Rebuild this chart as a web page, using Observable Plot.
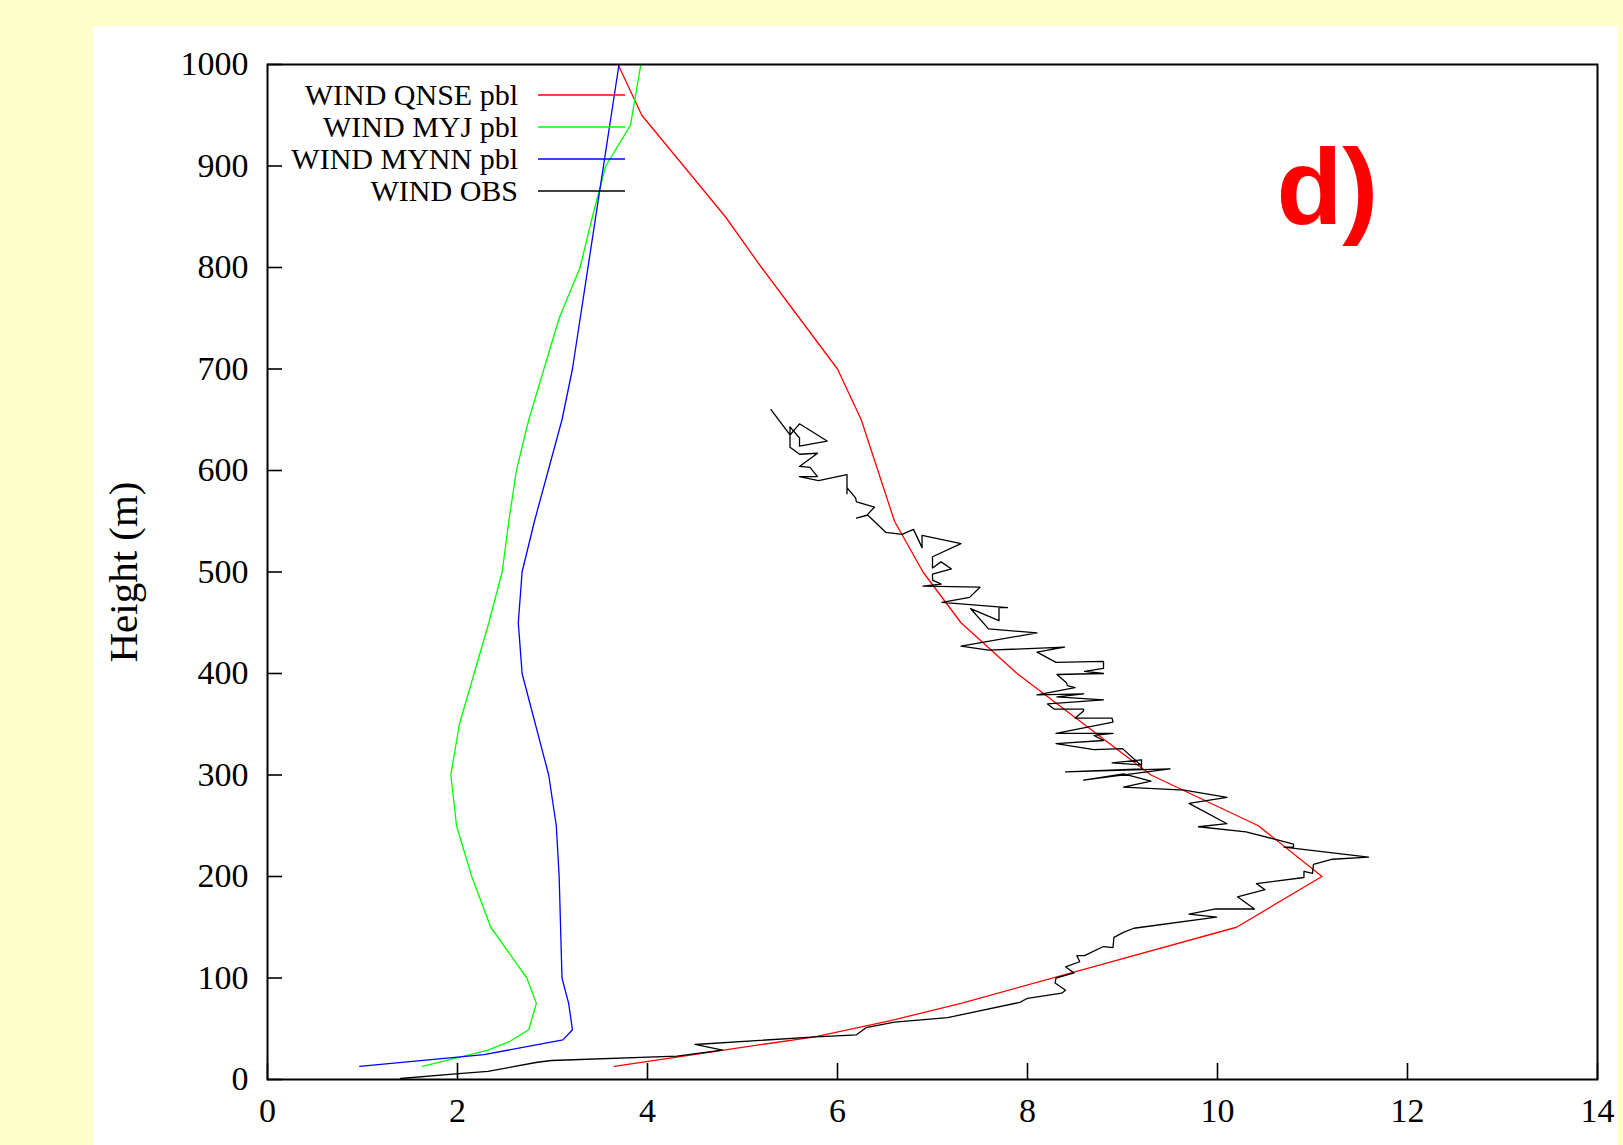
<!DOCTYPE html>
<html>
<head>
<meta charset="utf-8">
<script src="https://cdn.jsdelivr.net/npm/d3@7"></script>
<script src="https://cdn.jsdelivr.net/npm/@observablehq/plot@0.6"></script>
<style>
  html, body { margin: 0; padding: 0; background: #ffffcc; width: 1623px; height: 1145px; overflow: hidden; }
  #panel { position: absolute; left: 93px; top: 26px; width: 1524px; height: 1119px; background: #ffffff; }
  #chart { position: absolute; left: 0; top: 0; }
</style>
</head>
<body>
<div id="panel"></div>
<div id="chart"></div>
<script>
// ---- data (wind speed m/s, height m) ----
const xTicks = [0, 2, 4, 6, 8, 10, 12, 14];
const yTicks = [0, 100, 200, 300, 400, 500, 600, 700, 800, 900, 1000];
const seriesNames = ["WIND QNSE pbl", "WIND MYJ pbl", "WIND MYNN pbl", "WIND OBS"];
const seriesColors = ["#ff0000", "#00ff00", "#0000ff", "#000000"];
const yLabel = "Height (m)";
const panelLabel = [{x: 10.62, y: 877, text: "d)"}];

const qnse = [
  [3.65,13],[4.31,22],[4.80,29],[5.76,42],[6.56,58],[7.30,75],[10.20,150],[11.10,200],
  [10.43,250],[9.30,300],[7.89,400],[7.30,450],[6.90,500],[6.60,550],[6.25,650],[6.00,700],
  [5.60,750],[5.20,800],[4.82,850],[3.94,950],[3.69,1000]
];
const myj = [
  [1.63,13],[2.07,23],[2.32,29],[2.54,37],[2.75,49],[2.83,75],[2.73,100],[2.35,150],[2.15,200],
  [1.99,250],[1.93,300],[2.02,350],[2.33,450],[2.47,500],[2.54,550],[2.62,600],[2.75,650],
  [2.91,700],[3.07,750],[3.29,800],[3.42,850],[3.56,900],[3.82,940],[3.93,1000]
];
const mynn = [
  [0.97,13],[2.28,24.6],[3.11,39],[3.21,49],[3.17,75],[3.10,100],[3.07,200],[3.04,250],
  [2.96,300],[2.68,400],[2.64,450],[2.68,500],[2.81,550],[3.10,650],[3.21,700],[3.70,1000]
];
const obs = [
  [5.30,660],[5.50,635],[5.60,646],[5.89,629],[5.60,624],[5.60,632],[5.50,643],[5.50,623],
  [5.60,616],[5.79,617],[5.60,604],[5.71,603],[5.79,594],[5.60,594],[5.80,590],[6.10,596],
  [6.10,577],[6.10,583],[6.19,573],[6.20,569],[6.39,564],[6.31,556],[6.20,553],[6.32,556],
  [6.51,539],[6.68,537],[6.80,542],[6.89,524],[6.89,536],[7.30,528],[7.00,515],[7.00,504],
  [7.09,510],[7.20,503],[7.00,498],[7.00,492],[7.09,488],[6.90,486],[7.50,485],[7.39,475],
  [7.10,470],[7.79,465],[7.70,465],[7.70,452],[7.40,464],[7.59,444],[8.10,440],[7.30,427],
  [7.59,423],[8.39,426],[8.10,421],[8.30,411],[8.80,412],[8.80,405],[8.60,402],[8.80,400],
  [8.31,399],[8.41,391],[8.42,388],[8.50,386],[8.10,379],[8.59,380],[8.31,377],[8.80,374],
  [8.21,370],[8.28,365],[8.59,365],[8.59,363],[8.50,356],[8.89,356],[8.90,352],[8.30,341],
  [8.90,341],[8.70,339],[8.80,334],[8.30,331],[8.70,325],[9.00,326],[9.19,310],[8.89,312],
  [9.20,315],[9.20,306],[8.40,303],[9.50,306],[8.59,295],[9.01,301],[9.30,294],[9.01,288],
  [9.65,285],[10.10,278],[9.70,272],[10.10,252],[9.80,249],[10.30,244],[10.59,237],[10.80,232],
  [10.80,229],[10.70,229],[11.59,219],[11.21,217],[11.01,212],[11.00,203],[10.91,205],[10.91,199],
  [10.41,193],[10.50,187],[10.21,180],[10.39,168],[9.98,168],[9.70,163],[9.99,160],[9.12,149],
  [9.01,145],[8.91,140],[8.90,130],[8.80,131],[8.60,122],[8.52,122],[8.55,116],[8.40,111],
  [8.49,105],[8.30,100],[8.29,95],[8.40,88],[8.36,85],[8.00,80],[7.92,76],[7.16,61],
  [6.60,56.5],[6.30,51],[6.20,44],[5.77,42],[4.50,34.5],[4.79,29],[4.31,23],[2.99,18.7],
  [2.84,17],[2.32,8],[1.98,5.6],[1.40,1]
];

// ---- layout ----
const W = 1623, H = 1145, mL = 267, mR = 26, mT = 64, mB = 66;
const plotW = W - mL - mR, plotH = H - mT - mB;
const serif = "'Liberation Serif', 'Times New Roman', Times, serif";

const rows = (arr) => arr.map(([x, y]) => ({x, y}));
const allSeries = [qnse, myj, mynn, obs];

const plot = Plot.plot({
  width: W, height: H,
  marginLeft: mL, marginRight: mR, marginTop: mT, marginBottom: mB,
  style: {background: "transparent", fontFamily: serif, color: "black", overflow: "visible"},
  x: {domain: [0, 14]},
  y: {domain: [0, 1000]},
  marks: [
    ...allSeries.map((s, i) => Plot.line(rows(s), {x: "x", y: "y", stroke: seriesColors[i], strokeWidth: 1.3})),
    Plot.frame({stroke: "black", strokeWidth: 2}),
    Plot.tickX(xTicks, {x: d => d, insetTop: plotH - 16, stroke: "black", strokeWidth: 1.6}),
    Plot.tickY(yTicks, {y: d => d, insetRight: plotW - 15, stroke: "black", strokeWidth: 1.6}),
    Plot.axisX(xTicks, {tickSize: 0, tickPadding: 18, fontSize: 34, label: null, tickFormat: d => String(d)}),
    Plot.axisY(yTicks, {tickSize: 0, tickPadding: 19, fontSize: 34, label: null, tickFormat: d => String(d)}),
    Plot.text([yLabel], {text: d => d, frameAnchor: "left", textAnchor: "middle", lineAnchor: "middle",
      dx: -144, rotate: -90, fontSize: 41, fill: "black"}),
    Plot.text(panelLabel, {x: "x", y: "y", text: "text", fill: "#ff0000", fontSize: 108, fontWeight: "bold",
      fontFamily: "'Liberation Sans', Arial, sans-serif", textAnchor: "start"})
  ]
});

// legend inside the frame, top-left
const svg = d3.select(plot);
const lg = svg.append("g").attr("font-family", serif).attr("font-size", 30);
seriesNames.forEach((n, i) => {
  const yy = 95 + i * 32;
  lg.append("text").attr("x", 518).attr("y", yy).attr("dy", "0.33em")
    .attr("text-anchor", "end").attr("fill", "black").text(n);
  lg.append("line").attr("x1", 538).attr("x2", 625).attr("y1", yy).attr("y2", yy)
    .attr("stroke", seriesColors[i]).attr("stroke-width", 1.5);
});

document.getElementById("chart").appendChild(plot);
</script>
</body>
</html>
